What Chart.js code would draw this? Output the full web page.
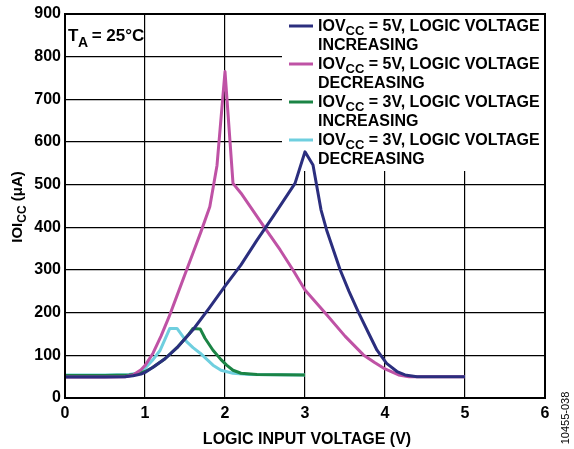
<!DOCTYPE html>
<html>
<head>
<meta charset="utf-8">
<script src="https://cdn.jsdelivr.net/npm/chart.js@4"></script>
<style>
  html, body { margin: 0; padding: 0; background: #fff; }
  #wrap { width: 574px; height: 449px; }
</style>
</head>
<body>
<div id="wrap"><canvas id="chart" width="574" height="449"></canvas></div>
<script>
// logic input voltage (V) / IOI_CC (uA)
const incr5X = [0, 0.5, 0.75, 0.85, 0.95, 1.0, 1.1, 1.25, 1.4, 1.6, 1.8, 2.0, 2.2, 2.4, 2.6, 2.875, 3.0, 3.1, 3.2, 3.27, 3.44, 3.55, 3.67, 3.8, 3.9, 4.02, 4.15, 4.25, 4.4, 5.0];
const incr5Y = [49, 49, 50, 52, 56, 60, 72, 92, 118, 160, 210, 262, 312, 370, 425, 503, 577, 546, 441, 394, 300, 250, 200, 150, 112, 81, 62, 54, 50, 50];

const decr5X = [0, 0.5, 0.75, 0.85, 0.95, 1.0, 1.1, 1.2, 1.3, 1.4, 1.5, 1.6, 1.7, 1.81, 1.9, 2.0, 2.1, 2.2, 2.5, 2.69, 2.85, 3.0, 3.25, 3.5, 3.73, 3.87, 4.0, 4.17, 4.3, 5.0];
const decr5Y = [49, 49, 50, 54, 66, 76, 105, 145, 190, 240, 290, 340, 390, 448, 545, 765, 503, 480, 398, 347, 300, 253, 200, 145, 101, 83, 68, 54, 50, 50];

const incr3X = [0, 0.5, 0.8, 0.9, 1.0, 1.1, 1.25, 1.4, 1.55, 1.6, 1.69, 1.75, 1.85, 1.95, 2.02, 2.1, 2.2, 2.4, 3.0];
const incr3Y = [53, 53, 54, 56, 62, 72, 92, 118, 150, 163, 162, 140, 112, 90, 77, 65, 58, 55, 54];

const decr3X = [0, 0.5, 0.8, 0.9, 1.0, 1.1, 1.19, 1.31, 1.4, 1.52, 1.6, 1.69, 1.85, 1.95, 2.1, 2.3, 3.0];
const decr3Y = [54, 54, 55, 58, 70, 90, 112, 163, 163, 132, 118, 105, 77, 65, 58, 55, 54];

const xTicks = [0, 1, 2, 3, 4, 5, 6];
const yTicks = [0, 100, 200, 300, 400, 500, 600, 700, 800, 900];

const legendLines = [
  ['IOV', 'CC', ' = 5V, LOGIC VOLTAGE', 'INCREASING'],
  ['IOV', 'CC', ' = 5V, LOGIC VOLTAGE', 'DECREASING'],
  ['IOV', 'CC', ' = 3V, LOGIC VOLTAGE', 'INCREASING'],
  ['IOV', 'CC', ' = 3V, LOGIC VOLTAGE', 'DECREASING']
];
const colors = ['#2b2e7e', '#bf52a5', '#1b8445', '#6fcfdf'];

const toPoints = (xs, ys) => xs.map((x, i) => ({ x: x, y: ys[i] }));

const FONT = '"Liberation Sans", Arial, Helvetica, sans-serif';

// draws the legend box, labels and axis titles
const annotations = {
  id: 'annotations',
  beforeDatasetsDraw(chart) {
    const ctx = chart.ctx;
    ctx.save();
    ctx.fillStyle = '#fff';
    ctx.fillRect(282, 15, 262, 156);
    ctx.restore();
  },
  afterDraw(chart) {
    const ctx = chart.ctx;
    const a = chart.chartArea;
    ctx.save();
    // frame
    ctx.strokeStyle = '#000';
    ctx.lineWidth = 2;
    ctx.strokeRect(a.left, a.top, a.right - a.left, a.bottom - a.top);

    ctx.fillStyle = '#000';
    ctx.textBaseline = 'alphabetic';

    // legend
    legendLines.forEach((l, i) => {
      const y0 = 31 + i * 38;
      ctx.strokeStyle = colors[i];
      ctx.lineWidth = 3;
      ctx.beginPath();
      ctx.moveTo(289, y0 - 5);
      ctx.lineTo(313, y0 - 5);
      ctx.stroke();
      ctx.textAlign = 'left';
      ctx.font = 'bold 16px ' + FONT;
      let x = 318;
      ctx.fillText(l[0], x, y0);
      x += ctx.measureText(l[0]).width;
      ctx.font = 'bold 13px ' + FONT;
      ctx.fillText(l[1], x, y0 + 4);
      x += ctx.measureText(l[1]).width;
      ctx.font = 'bold 16px ' + FONT;
      ctx.fillText(l[2], x, y0);
      ctx.fillText(l[3], 318, y0 + 19);
    });

    // T_A label
    ctx.textAlign = 'left';
    ctx.font = 'bold 17px ' + FONT;
    ctx.fillText('T', 68, 41);
    ctx.font = 'bold 14px ' + FONT;
    ctx.fillText('A', 78, 47);
    ctx.font = 'bold 17px ' + FONT;
    ctx.fillText(' = 25°C', 87, 41);

    // x axis title
    ctx.textAlign = 'center';
    ctx.font = 'bold 16px ' + FONT;
    ctx.fillText('LOGIC INPUT VOLTAGE (V)', 307, 444);

    // y axis title
    ctx.save();
    ctx.translate(22, 207);
    ctx.rotate(-Math.PI / 2);
    const p1 = 'IOI', p2 = 'CC', p3 = ' (μA)';
    ctx.font = 'bold 15px ' + FONT;
    const w1 = ctx.measureText(p1).width, w3 = ctx.measureText(p3).width;
    ctx.font = 'bold 12px ' + FONT;
    const w2 = ctx.measureText(p2).width;
    let x = -(w1 + w2 + w3) / 2;
    ctx.textAlign = 'left';
    ctx.font = 'bold 15px ' + FONT;
    ctx.fillText(p1, x, 0);
    x += w1;
    ctx.font = 'bold 12px ' + FONT;
    ctx.fillText(p2, x, 4);
    x += w2;
    ctx.font = 'bold 15px ' + FONT;
    ctx.fillText(p3, x, 0);
    ctx.restore();

    // figure code
    ctx.save();
    ctx.translate(569, 418);
    ctx.rotate(-Math.PI / 2);
    ctx.textAlign = 'center';
    ctx.font = '11px ' + FONT;
    ctx.fillText('10455-038', 0, 0);
    ctx.restore();

    ctx.restore();
  }
};

const mkSet = (label, xs, ys, color) => ({
  label: label,
  data: toPoints(xs, ys),
  borderColor: color,
  borderWidth: 3,
  borderJoinStyle: 'round',
  pointRadius: 0,
  fill: false,
  tension: 0
});

new Chart(document.getElementById('chart').getContext('2d'), {
  type: 'line',
  data: {
    datasets: [
      mkSet('5V increasing', incr5X, incr5Y, colors[0]),
      mkSet('5V decreasing', decr5X, decr5Y, colors[1]),
      mkSet('3V increasing', incr3X, incr3Y, colors[2]),
      mkSet('3V decreasing', decr3X, decr3Y, colors[3])
    ]
  },
  options: {
    responsive: false,
    animation: false,
    layout: { padding: { left: 0, top: 14, right: 29, bottom: 0 } },
    plugins: { legend: { display: false }, tooltip: { enabled: false } },
    scales: {
      x: {
        type: 'linear',
        min: 0,
        max: 6,
        afterFit: (s) => { s.height = 51; },
        afterBuildTicks: (s) => { s.ticks = xTicks.map(v => ({ value: v })); },
        grid: { color: '#000', lineWidth: 1.2, drawTicks: false },
        border: { display: false },
        ticks: { color: '#000', padding: 6, maxRotation: 0, font: { family: FONT, size: 16, weight: 'bold' } }
      },
      y: {
        min: 0,
        max: 900,
        afterFit: (s) => { s.width = 65; },
        afterBuildTicks: (s) => { s.ticks = yTicks.map(v => ({ value: v })); },
        grid: { color: '#000', lineWidth: 1.2, drawTicks: false },
        border: { display: false },
        ticks: { color: '#000', padding: 4, font: { family: FONT, size: 16, weight: 'bold' } }
      }
    }
  },
  plugins: [annotations]
});
</script>
</body>
</html>
